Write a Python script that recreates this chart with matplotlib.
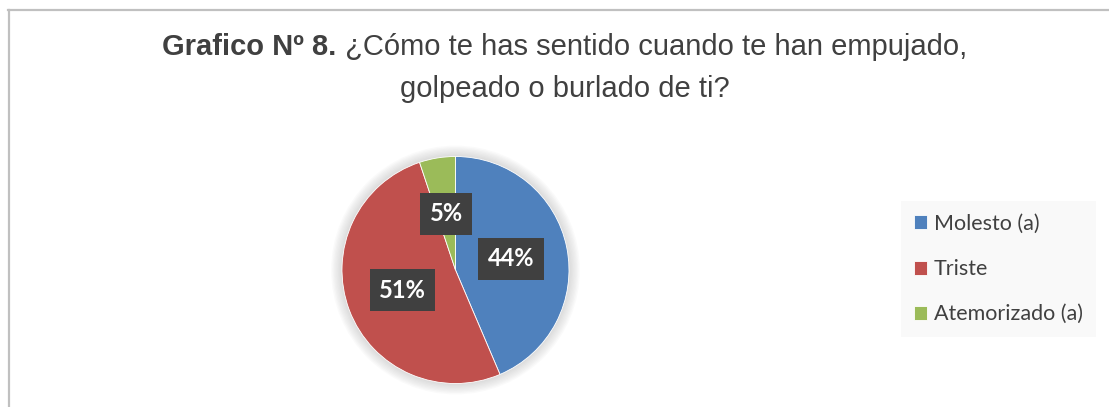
import matplotlib
matplotlib.use('Agg')
import matplotlib.pyplot as plt
from matplotlib.patches import Circle
from matplotlib.lines import Line2D

# data
labels = ['Molesto (a)', 'Triste', 'Atemorizado (a)']
counts = [17, 20, 2]
colors = ['#4F81BD', '#C0504D', '#9BBB59']

title_bold = 'Grafico Nº 8.'
title_rest = ' ¿Cómo te has sentido cuando te han empujado,'
title_line2 = 'golpeado o burlado de ti?'

W, H = 1109, 407
fig = plt.figure(figsize=(W / 100, H / 100), dpi=100)
fig.patch.set_facecolor('white')

# chart border (top and left visible)
fig.add_artist(Line2D([8 / W, 1], [1 - 9.5 / H, 1 - 9.5 / H], color='#c0c0c0', lw=1.6))
fig.add_artist(Line2D([9 / W, 9 / W], [0, 1 - 9.5 / H], color='#c0c0c0', lw=1.6))

# pie
cx, cy, r = 455.5, 270, 113.5
side = 2.5 * r
ax = fig.add_axes([(cx - side / 2) / W, (H - cy - side / 2) / H, side / W, side / H])

# soft glow around the pie
for i in range(8):
    ax.add_patch(Circle((0, 0), 1.0 + 0.012 * (i + 1), color='#808080', alpha=0.035, lw=0, zorder=0))

wedges, texts, autotexts = ax.pie(
    counts, colors=colors, startangle=90, counterclock=False,
    autopct=lambda p: '%d%%' % round(p), pctdistance=0.5,
    wedgeprops=dict(edgecolor='white', linewidth=0.6),
    textprops=dict(color='white', fontsize=17, fontweight='bold', family='Lato'),
)
for t in autotexts:
    t.set_bbox(dict(boxstyle='square,pad=0.4', facecolor='#404040', edgecolor='none'))
ax.set_xlim(-1.25, 1.25)
ax.set_ylim(-1.25, 1.25)
ax.set_aspect('equal')

# legend
leg = fig.legend(wedges, labels, loc='upper left', bbox_to_anchor=(901 / W, 1 - 201 / H),
                 frameon=True, fancybox=False, prop=dict(family='Lato', size=15.5),
                 labelspacing=1.17, handlelength=0.62, handleheight=0.62, handletextpad=0.3,
                 borderpad=0.6, borderaxespad=0)
leg.get_frame().set_facecolor('#f8f8f8')
leg.get_frame().set_edgecolor('none')
for t in leg.get_texts():
    t.set_color('#404040')

# title
fig.canvas.draw()
renderer = fig.canvas.get_renderer()
tb = fig.text(0, 1 - 55 / H, title_bold, fontsize=21, fontweight='bold', family='Liberation Sans',
              color='#404040', va='baseline')
tr = fig.text(0, 1 - 55 / H, title_rest, fontsize=21, family='Liberation Sans',
              color='#404040', va='baseline')
wb = tb.get_window_extent(renderer).width
wr = tr.get_window_extent(renderer).width
x0 = 564.5 - (wb + wr) / 2
tb.set_x(x0 / W)
tr.set_x((x0 + wb) / W)
fig.text(565 / W, 1 - 97 / H, title_line2, fontsize=21, family='Liberation Sans',
         color='#404040', ha='center', va='baseline')

fig.savefig('out.png', dpi=100)
